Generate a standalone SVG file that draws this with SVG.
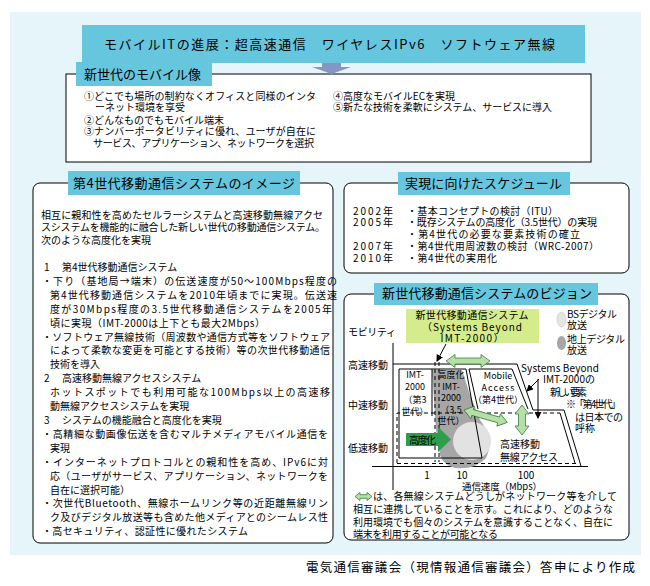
<svg xmlns="http://www.w3.org/2000/svg" width="650" height="586" viewBox="0 0 650 586">
<defs>
<style>
text{font-family:"Noto Sans CJK JP","Liberation Sans",sans-serif;font-size:10px;fill:#000}
.hd{font-size:13px}
.c{font-size:9px}
.tab{fill:#66C6DE}
.box{fill:#fff;stroke:#000;stroke-width:1}
.ln{fill:none;stroke:#000;stroke-width:1}
.dash{fill:none;stroke:#000;stroke-width:1;stroke-dasharray:4 3}
.da{fill:#B6DFA6;stroke:#3A7F40;stroke-width:0.8}
.mid{text-anchor:middle}
</style>
<marker id="ah" markerWidth="7" markerHeight="7" refX="6" refY="3.5" orient="auto" markerUnits="userSpaceOnUse"><path d="M0,0 L7,3.5 L0,7 Z" fill="#000"/></marker>
</defs>

<rect x="10" y="12" width="631" height="543" fill="#E5F5FA"/>

<g id="title">
<rect x="82" y="25" width="503" height="38" class="tab"/>
<text class="hd" x="104" y="48.5" textLength="451" lengthAdjust="spacing">モバイルITの進展：超高速通信　ワイヤレスIPv6　ソフトウェア無線</text>
</g>

<g id="mobile">
<rect x="66" y="74" width="525" height="88" class="box"/>
<rect x="76" y="62" width="136" height="24" class="tab"/>
<text class="hd" x="84" y="78.5" textLength="117" lengthAdjust="spacing">新世代のモバイル像</text>
<text x="84" y="99.5" textLength="232" lengthAdjust="spacing">①どこでも場所の制約なくオフィスと同様のインタ</text>
<text x="95" y="110.5">ーネット環境を享受</text>
<text x="84" y="123.5">②どんなものでもモバイル端末</text>
<text x="84" y="134.5" textLength="232" lengthAdjust="spacing">③ナンバーポータビリティに優れ、ユーザが自在に</text>
<text x="93" y="146.5" textLength="221" lengthAdjust="spacing">サービス、アプリケーション、ネットワークを選択</text>
<text x="333" y="99.5" textLength="122" lengthAdjust="spacing">④高度なモバイルECを実現</text>
<text x="333" y="110.5" textLength="219" lengthAdjust="spacing">⑤新たな技術を柔軟にシステム、サービスに導入</text>
</g>

<g id="image4g">
<rect x="33" y="183" width="300" height="360" rx="7" class="box"/>
<rect x="68" y="171" width="232" height="24" class="tab"/>
<text class="hd" x="73" y="187.5" textLength="222" lengthAdjust="spacing">第4世代移動通信システムのイメージ</text>
<text x="41" y="218.5" textLength="282" lengthAdjust="spacing">相互に親和性を高めたセルラーシステムと高速移動無線アクセ</text>
<text x="41" y="230.5" textLength="284" lengthAdjust="spacing">スシステムを機能的に融合した新しい世代の移動通信システム。</text>
<text x="41" y="243.5">次のような高度化を実現</text>
<text x="44" y="270.5">1</text>
<text x="62" y="270.5">第4世代移動通信システム</text>
<text x="42" y="284.5" textLength="295" lengthAdjust="spacing">・下り（基地局→端末）の伝送速度が50～100Mbps程度の</text>
<text x="50" y="298.5" textLength="287" lengthAdjust="spacing">第4世代移動通信システムを2010年頃までに実現。伝送速</text>
<text x="50" y="312.5" textLength="282" lengthAdjust="spacing">度が30Mbps程度の3.5世代移動通信システムを2005年</text>
<text x="50" y="326.5" textLength="215" lengthAdjust="spacing">頃に実現（IMT-2000は上下とも最大2Mbps）</text>
<text x="42" y="340.5" textLength="288" lengthAdjust="spacing">・ソフトウェア無線技術（周波数や通信方式等をソフトウェア</text>
<text x="50" y="353.5" textLength="280" lengthAdjust="spacing">によって柔軟な変更を可能とする技術）等の次世代移動通信</text>
<text x="50" y="367.5">技術を導入</text>
<text x="44" y="381.5">2</text>
<text x="62" y="381.5">高速移動無線アクセスシステム</text>
<text x="50" y="395.5" textLength="280" lengthAdjust="spacing">ホットスポットでも利用可能な100Mbps以上の高速移</text>
<text x="50" y="409.5">動無線アクセスシステムを実現</text>
<text x="44" y="423.5">3</text>
<text x="62" y="423.5">システムの機能融合と高度化を実現</text>
<text x="42" y="437.5" textLength="286" lengthAdjust="spacing">・高精細な動画像伝送を含むマルチメディアモバイル通信を</text>
<text x="50" y="451.5">実現</text>
<text x="42" y="465.5" textLength="286" lengthAdjust="spacing">・インターネットプロトコルとの親和性を高め、IPv6に対</text>
<text x="50" y="479.5" textLength="278" lengthAdjust="spacing">応（ユーザがサービス、アプリケーション、ネットワークを</text>
<text x="50" y="493.5">自在に選択可能）</text>
<text x="42" y="506.5" textLength="286" lengthAdjust="spacing">・次世代Bluetooth、無線ホームリンク等の近距離無線リン</text>
<text x="50" y="520.5" textLength="278" lengthAdjust="spacing">ク及びデジタル放送等も含めた他メディアとのシームレス性</text>
<text x="42" y="534.5" textLength="206" lengthAdjust="spacing">・高セキュリティ、認証性に優れたシステム</text>
</g>

<g id="schedule">
<rect x="344" y="183" width="285" height="90" rx="7" class="box"/>
<rect x="398" y="172" width="172" height="23" class="tab"/>
<text class="hd" x="405" y="187.5" textLength="157" lengthAdjust="spacing">実現に向けたスケジュール</text>
<text x="353" y="214.5" textLength="40" lengthAdjust="spacing">2002年</text>
<text x="407" y="214.5" textLength="151" lengthAdjust="spacing">・基本コンセプトの検討（ITU）</text>
<text x="353" y="226" textLength="40" lengthAdjust="spacing">2005年</text>
<text x="407" y="226" textLength="190" lengthAdjust="spacing">・既存システムの高度化（3.5世代）の実現</text>
<text x="407" y="237.5" textLength="173" lengthAdjust="spacing">・第4世代の必要な要素技術の確立</text>
<text x="353" y="249.5" textLength="40" lengthAdjust="spacing">2007年</text>
<text x="407" y="249.5" textLength="192" lengthAdjust="spacing">・第4世代用周波数の検討（WRC-2007）</text>
<text x="353" y="261.5" textLength="40" lengthAdjust="spacing">2010年</text>
<text x="407" y="261.5" textLength="90" lengthAdjust="spacing">・第4世代の実用化</text>
</g>

<g id="vision">
<rect x="344" y="294" width="285" height="246" rx="7" class="box"/>
<rect x="374" y="283" width="224" height="22" class="tab"/>
<text class="hd" x="382" y="297.5" textLength="210" lengthAdjust="spacing">新世代移動通信システムのビジョン</text>

<g id="label-box">
<rect x="406" y="309" width="133" height="34" fill="#D5EC8C"/>
<text class="mid" x="472" y="318.5" textLength="113" lengthAdjust="spacing">新世代移動通信システム</text>
<text class="mid" x="472" y="330.5" textLength="100" lengthAdjust="spacing">（Systems Beyond</text>
<text class="mid" x="472" y="341.5" textLength="63" lengthAdjust="spacing">IMT-2000）</text>
</g>

<g id="legend">
<ellipse cx="561.5" cy="319.5" rx="4.5" ry="7.5" fill="#E4E4E4" stroke="#C8C8C8" stroke-width="0.6"/>
<text x="567" y="317.5" textLength="50" lengthAdjust="spacing">BSデジタル</text>
<text x="567" y="328.5">放送</text>
<ellipse cx="561.5" cy="343" rx="4.5" ry="7" fill="#A6A6A6"/>
<text x="567" y="342.5" textLength="58" lengthAdjust="spacing">地上デジタル</text>
<text x="567" y="353.5">放送</text>
</g>

<g id="axes">
<line x1="393" y1="343" x2="393" y2="490" class="ln"/>
<line x1="372" y1="466.5" x2="588" y2="466.5" class="ln"/>
<text x="348" y="335.5" textLength="48" lengthAdjust="spacing">モビリティ</text>
<text x="348" y="368.5" textLength="40" lengthAdjust="spacing">高速移動</text>
<text x="348" y="408.5" textLength="40" lengthAdjust="spacing">中速移動</text>
<text x="348" y="451.5" textLength="40" lengthAdjust="spacing">低速移動</text>
<text class="mid" x="427" y="478.5">1</text>
<text class="mid" x="462" y="478.5">10</text>
<text class="mid" x="526" y="478.5">100</text>
<text x="462" y="489.5" style="font-size:9.5px" textLength="80" lengthAdjust="spacing">通信速度（Mbps）</text>
</g>

<g id="regions">
<path d="M432,370 L462,370 L470,395 L480,420 Q495,440 486,458 Q475,470 455,468 Q443,465 440,455 L436,430 Z" fill="#A6A6A6"/>
<circle cx="472" cy="441" r="19" fill="#E2E2E2"/>
<polyline points="393,364 517,364 533,410 564,410 581,466" class="ln"/>
<polygon points="399,369 466,369 482,458 399,458" class="ln"/>
<line x1="432" y1="369" x2="432" y2="416" class="ln"/>
<line x1="435" y1="362" x2="435" y2="462" class="dash"/>
<line x1="439" y1="362" x2="439" y2="462" class="dash"/>
<polyline points="478,409 469,369 512,369 528,409" class="ln"/>
<polyline points="397,463 397,413 560,413" class="dash"/>
<line x1="397" y1="463.5" x2="576" y2="463.5" class="dash"/>
<line x1="560" y1="413" x2="575" y2="463" class="ln"/>
</g>

<g id="node-imt2000">
<text class="c mid" x="415" y="378">IMT-</text>
<text class="c mid" x="415" y="390">2000</text>
<text class="c mid" x="415" y="403">（第3</text>
<text class="c mid" x="415" y="415">世代）</text>
</g>
<g id="node-imt35">
<text class="c mid" x="451" y="378">高度化</text>
<text class="c mid" x="451" y="390">IMT-</text>
<text class="c mid" x="451" y="401">2000</text>
<text class="c mid" x="451" y="413">（3.5</text>
<text class="c mid" x="451" y="424">世代）</text>
</g>
<g id="node-mobile-access">
<text class="c mid" x="498" y="379">Mobile</text>
<text class="c mid" x="498" y="391" textLength="33" lengthAdjust="spacing">Access</text>
<text class="c mid" x="498" y="403">（第4世代）</text>
</g>
<g id="node-hs-access">
<text x="500" y="447.5" textLength="40" lengthAdjust="spacing">高速移動</text>
<text x="500" y="460.5" textLength="58" lengthAdjust="spacing">無線アクセス</text>
</g>
<g id="node-beyond">
<text x="521" y="371.5" textLength="78" lengthAdjust="spacing">Systems Beyond</text>
<text x="543" y="382.5" textLength="52" lengthAdjust="spacing">IMT-2000の</text>
<text x="550" y="395.5" textLength="37" lengthAdjust="spacing">新しい要素</text>
<text x="566" y="407.5" textLength="55" lengthAdjust="spacing">※「第4世代」</text>
<text x="575" y="420.5" textLength="48" lengthAdjust="spacing">は日本での</text>
<text x="575" y="431.5">呼称</text>
</g>
<g id="node-koudoka">
<path d="M406,433 L438,433 L438,427 L451,439.5 L438,452 L438,446 L406,446 Z" fill="#2E9E4A"/>
<text x="409" y="443.5" textLength="27" lengthAdjust="spacing">高度化</text>
</g>
</g>

<g id="connectors">
<path d="M322,63 L341,63 L341,67 L351,67 L331.5,74 L312,67 L322,67 Z" fill="#8496C4"/>
<line x1="446" y1="344" x2="437" y2="361" class="ln" marker-end="url(#ah)"/>
<line x1="539" y1="379" x2="527" y2="391" class="ln" marker-end="url(#ah)"/>
<line x1="538" y1="379" x2="538" y2="418" class="ln" marker-end="url(#ah)"/>
<path class="da" transform="translate(446,361)" d="M0,0 L9,-6.5 L9,-3 L35,-3 L35,-6.5 L44,0 L35,6.5 L35,3 L9,3 L9,6.5 Z"/>
<path class="da" transform="translate(464,410) rotate(16)" d="M0,0 L9,-6.5 L9,-3 L36,-3 L36,-6.5 L45,0 L36,6.5 L36,3 L9,3 L9,6.5 Z"/>
<path class="da" transform="translate(522,405) rotate(90)" d="M0,0 L9,-7 L9,-3.5 L21,-3.5 L21,-7 L30,0 L21,7 L21,3.5 L9,3.5 L9,7 Z"/>
<path class="da" transform="translate(355,496.5)" d="M0,0 L5,-4 L5,-1.8 L12,-1.8 L12,-4 L17,0 L12,4 L12,1.8 L5,1.8 L5,4 Z"/>
</g>

<g id="caption">
<text x="373" y="500" textLength="244" lengthAdjust="spacing">は、各無線システムどうしがネットワーク等を介して</text>
<text x="353" y="513" textLength="260" lengthAdjust="spacing">相互に連携していることを示す。これにより、どのような</text>
<text x="353" y="525.5" textLength="260" lengthAdjust="spacing">利用環境でも個々のシステムを意識することなく、自在に</text>
<text x="353" y="537.5" textLength="145" lengthAdjust="spacing">端末を利用することが可能となる</text>
</g>

<text x="306" y="571.5" style="font-size:12.5px" textLength="329" lengthAdjust="spacing">電気通信審議会（現情報通信審議会）答申により作成</text>
</svg>
